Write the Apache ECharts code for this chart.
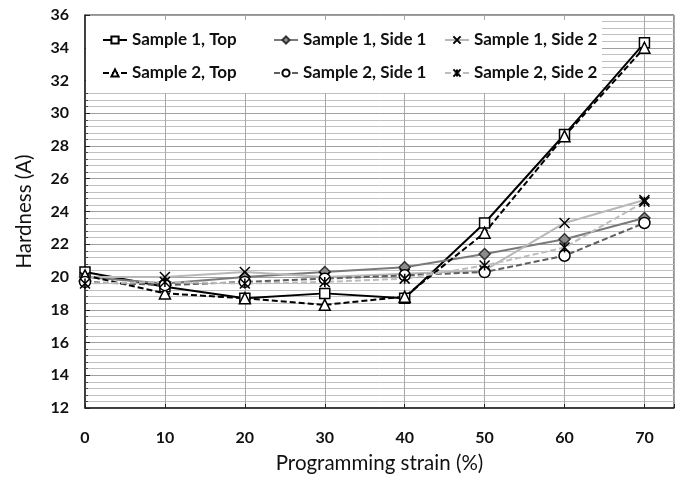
<!DOCTYPE html>
<html>
<head>
<meta charset="utf-8">
<script src="https://cdn.jsdelivr.net/npm/echarts@6/dist/echarts.min.js"></script>
<style>html,body{margin:0;padding:0;background:#fff;}#c{width:677px;height:479px;}</style>
</head>
<body>
<div id="c"></div>
<script>
const strains = [0, 10, 20, 30, 40, 50, 60, 70];
const seriesNames = ['Sample 1, Top', 'Sample 1, Side 1', 'Sample 1, Side 2', 'Sample 2, Top', 'Sample 2, Side 1', 'Sample 2, Side 2'];
const s1Top   = [20.3, 19.4, 18.7, 19.0, 18.7, 23.3, 28.7, 34.3];
const s1Side1 = [20.0, 19.6, 20.0, 20.3, 20.6, 21.4, 22.3, 23.6];
const s1Side2 = [20.0, 20.0, 20.3, 20.0, 20.2, 20.4, 23.3, 24.7];
const s2Top   = [20.1, 19.0, 18.7, 18.3, 18.8, 22.7, 28.6, 34.0];
const s2Side1 = [19.7, 19.5, 19.7, 19.9, 20.1, 20.3, 21.3, 23.3];
const s2Side2 = [19.6, 19.7, 19.6, 19.7, 19.9, 20.7, 21.8, 24.6];
const yTicks = [12, 14, 16, 18, 20, 22, 24, 26, 28, 30, 32, 34, 36];

const FONT = 'Lato';
const pair = arr => strains.map((x, i) => [x, arr[i]]);
const XPATH = 'path://M0,0L10,10M10,0L0,10';
const ASTPATH = 'path://M0,0L10,10M10,0L0,10M5,0L5,10';

function mk(name, data, color, dashed, symbol, size, fill, border) {
  return {
    name: name, type: 'line', data: pair(data),
    symbol: symbol, symbolSize: size, showSymbol: true,
    lineStyle: { color: color, width: 2, type: dashed ? [6, 3] : 'solid' },
    itemStyle: { color: fill, borderColor: border, borderWidth: 1.5 },
    emphasis: { disabled: true },
    clip: false
  };
}

const chart = echarts.init(document.getElementById('c'), null, { renderer: 'canvas' });
chart.setOption({
  animation: false,
  backgroundColor: '#fff',
  textStyle: { fontFamily: FONT },
  grid: { left: 85, right: 0, top: 15, bottom: 69.5, show: true, borderColor: '#222', borderWidth: 1 },
  legend: {
    left: 86, top: 20, width: 520, z: 1,
    padding: [3.5, -13, 3.5, 16],
    backgroundColor: '#fff',
    itemWidth: 24, itemHeight: 9, itemGap: 0,
    data: seriesNames,
    textStyle: { fontFamily: FONT, fontWeight: 'bold', fontSize: 17, color: '#111', width: 141, lineHeight: 33 }
  },
  xAxis: {
    type: 'value', min: 0, max: 73.7, interval: 10,
    name: 'Programming strain (%)', nameLocation: 'middle', nameGap: 45,
    nameTextStyle: { fontFamily: FONT, fontSize: 20.5, color: '#111' },
    axisLine: { show: true, lineStyle: { color: '#222', width: 1.5 } },
    axisTick: { show: true, inside: true, length: 4, lineStyle: { color: '#222' } },
    axisLabel: { margin: 22, fontFamily: FONT, fontWeight: 'bold', fontSize: 16, color: '#111',
      formatter: v => (strains.indexOf(v) >= 0) ? String(v) : '' },
    splitLine: { show: true, lineStyle: { color: '#a8a8a8', width: 1 } }
  },
  yAxis: {
    type: 'value', min: yTicks[0], max: yTicks[yTicks.length - 1], interval: 2,
    name: 'Hardness (A)', nameLocation: 'middle', nameGap: 50,
    nameTextStyle: { fontFamily: FONT, fontSize: 20.5, color: '#111' },
    axisLine: { show: true, lineStyle: { color: '#222', width: 1.5 } },
    axisTick: { show: true, inside: true, length: 5, lineStyle: { color: '#222' } },
    minorTick: { show: true, splitNumber: 5, length: 3, lineStyle: { color: '#444' } },
    axisLabel: { margin: 16, fontFamily: FONT, fontWeight: 'bold', fontSize: 16, color: '#111' },
    splitLine: { show: true, lineStyle: { color: '#a0a0a0', width: 1 } },
    minorSplitLine: { show: true, lineStyle: { color: '#c0c0c0', width: 1 } }
  },
  series: [
    mk(seriesNames[0], s1Top, '#000', false, 'rect', 10, '#fff', '#000'),
    mk(seriesNames[1], s1Side1, '#7a7a7a', false, 'diamond', 11, '#8c8c8c', '#333'),
    mk(seriesNames[2], s1Side2, '#b8b8b8', false, XPATH, 10, 'rgba(0,0,0,0)', '#000'),
    mk(seriesNames[3], s2Top, '#000', true, 'triangle', 11, '#fff', '#000'),
    mk(seriesNames[4], s2Side1, '#5e5e5e', true, 'circle', 11, '#fff', '#000'),
    mk(seriesNames[5], s2Side2, '#bdbdbd', true, ASTPATH, 10, 'rgba(0,0,0,0)', '#000')
  ]
});
</script>
</body>
</html>
